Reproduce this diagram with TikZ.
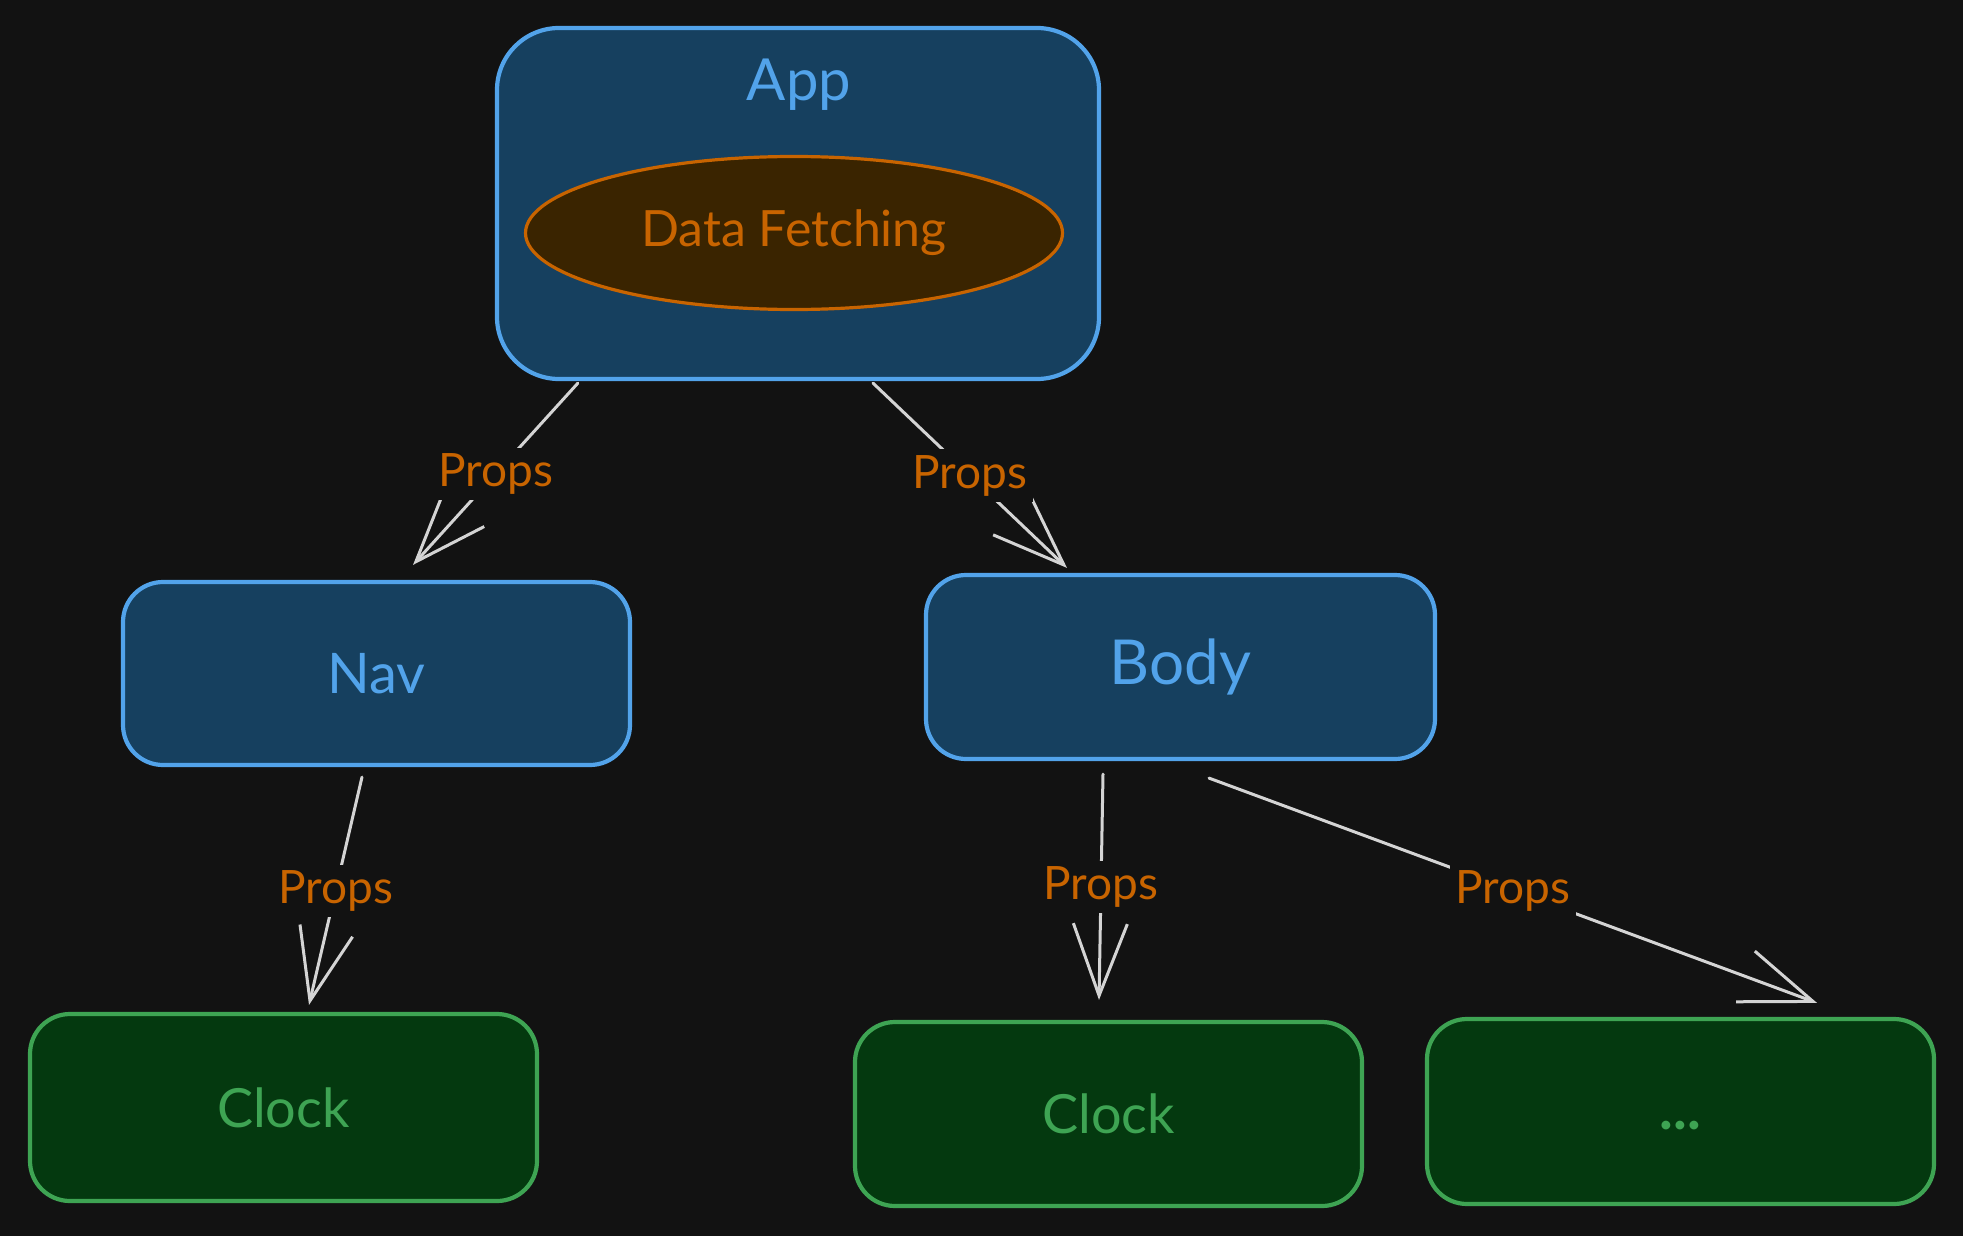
\documentclass[tikz,border=0pt]{standalone}
\usepackage{fontspec}
\setmainfont{Lato}
\usetikzlibrary{arrows.meta,calc,shapes.geometric}
\definecolor{bg}{HTML}{121212}
\definecolor{bluefill}{HTML}{16405F}
\definecolor{bluestroke}{HTML}{52A3EA}
\definecolor{orangetxt}{HTML}{C86400}
\definecolor{brownfill}{HTML}{3A2400}
\definecolor{greenfill}{HTML}{04390F}
\definecolor{greenstroke}{HTML}{3EA453}
\definecolor{arrowc}{HTML}{D4D4D4}
\begin{document}
\begin{tikzpicture}[x=1pt,y=-1pt,
  bluebox/.style={draw=bluestroke, fill=bluefill, line width=4.2pt, rounded corners=40pt, text=bluestroke, font=\fontsize{56}{64}\selectfont},
  greenbox/.style={draw=greenstroke, fill=greenfill, line width=4.2pt, rounded corners=40pt, text=greenstroke, font=\fontsize{54}{62}\selectfont},
  arr/.style={draw=arrowc, line width=3pt, line cap=round, -{Straight Barb[length=72pt, width=54pt, line width=3pt]}},
  plbl/.style={fill=bg, text=orangetxt, inner sep=6pt, font=\fontsize{46}{52}\selectfont}
]
\fill[bg] (0,0) rectangle (1963,1236);
\useasboundingbox (0,0) rectangle (1963,1236);

% nodes
\node[bluebox, rounded corners=62pt, minimum width=602pt, minimum height=351pt] (app) at (798,203.5) {};
\node[text=bluestroke, font=\fontsize{58}{64}\selectfont] (apptxt) at (799,85) {App};
\node[ellipse, draw=orangetxt, fill=brownfill, line width=3.2pt, minimum width=537pt, minimum height=153pt, inner sep=0pt, text=orangetxt, font=\fontsize{50}{58}\selectfont] (fetch) at (794,233) {Data Fetching};

\node[bluebox, minimum width=507pt, minimum height=183pt] (nav) at (376.5,673.5) {Nav};
\node[bluebox, minimum width=509pt, minimum height=184pt, font=\fontsize{62}{70}\selectfont] (body) at (1180.5,667) {Body};

\node[greenbox, minimum width=507pt, minimum height=187pt] (clockA) at (283.5,1107.5) {Clock};
\node[greenbox, minimum width=507pt, minimum height=184pt] (clockB) at (1108.5,1114) {Clock};
\node[greenbox, minimum width=507pt, minimum height=185pt] (more) at (1680.5,1111.5) {};
\node[text=greenstroke, font=\bfseries\fontsize{58}{64}\selectfont] (moretxt) at (1680.5,1126) {...};

% connectors
\draw[arr] ($(app.south west)+(83,2)$) -- node[plbl]{Props} ($(nav.north)+(36.5,-15)$);
\draw[arr] ($(app.south)+(75,2)$) -- node[plbl]{Props} ($(body.north)+(-113.5,-5)$);
\draw[arr] ($(nav.south)+(-14.5,10)$) -- node[plbl]{Props} ($(clockA.north)+(25.5,-7)$);
\draw[arr] ($(body.south)+(-77.5,13)$) -- node[plbl]{Props} ($(clockB.north)+(-9.5,-20)$);
\draw[arr] ($(body.south)+(28.5,17)$) -- node[plbl]{Props} ($(more.north)+(136.5,-14)$);
\end{tikzpicture}
\end{document}
